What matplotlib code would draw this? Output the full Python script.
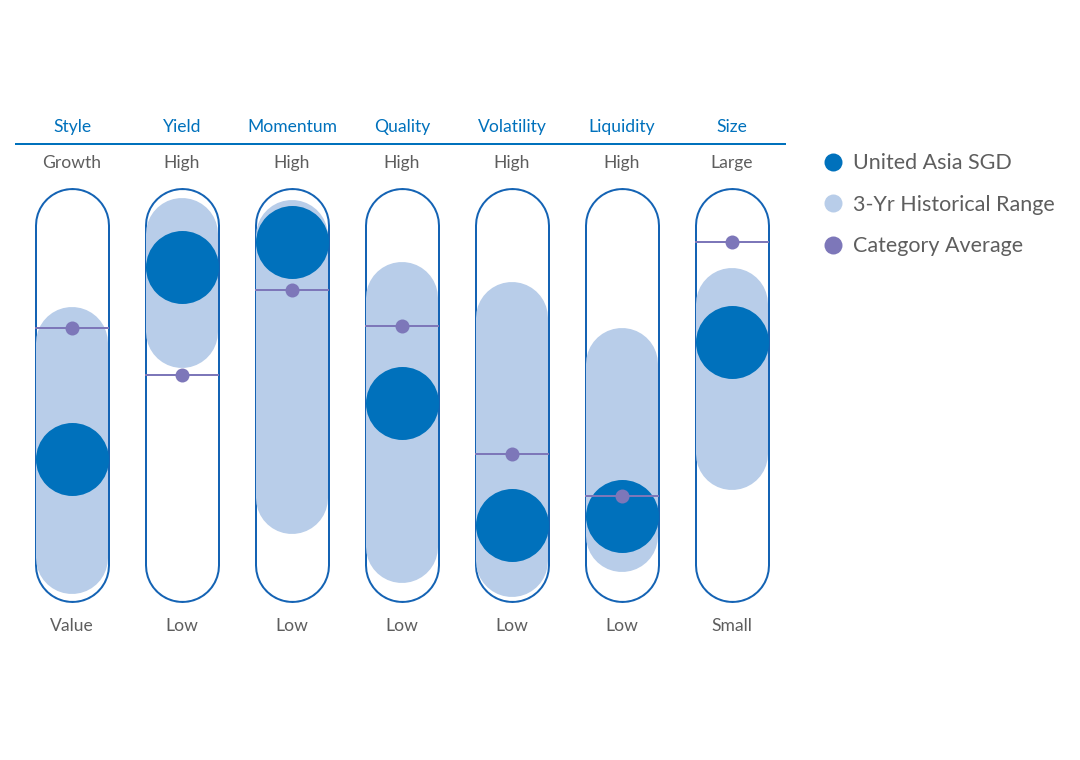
import matplotlib
matplotlib.use("Agg")
import matplotlib.pyplot as plt
from matplotlib.lines import Line2D

# factor names and end labels
factors = ["Style", "Yield", "Momentum", "Quality", "Volatility", "Liquidity", "Size"]
top_labels = ["Growth", "High", "High", "High", "High", "High", "Large"]
bottom_labels = ["Value", "Low", "Low", "Low", "Low", "Low", "Small"]

# values on a 0-100 scale (0 = bottom, 100 = top of pillar)
fund = [31.3, 87.5, 95.1, 47.6, 11.9, 14.3, 65.6]
range_low = [2.1, 68.5, 19.7, 5.3, 1.2, 8.5, 32.6]
range_high = [65.3, 97.4, 96.8, 78.5, 72.6, 59.1, 76.8]
cat_avg = [69.7, 55.9, 80.9, 70.3, 32.6, 20.3, 95.0]

legend_labels = ["United Asia SGD", "3-Yr Historical Range", "Category Average"]

DARK = "#0071bc"
LIGHT = "#b8cde9"
PURPLE = "#7d77b9"
OUTLINE = "#1463b4"
GREY = "#5e5e5e"

plt.rcParams['font.family'] = ['Lato', 'DejaVu Sans']

fig = plt.figure(figsize=(10.8, 7.6), dpi=100)
# 1 column = 110 px, 1 value unit = 3.4 px
ax = fig.add_axes([17 / 1080, 100 / 760, 770 / 1080, 560 / 760])
ax.set_xlim(-0.5, 6.5)
ax.set_ylim(-27.94, 136.76)
ax.axis("off")

px = 72 / 100  # points per pixel
for i in range(len(factors)):
    # pillar outline: thick blue round-capped line with white inside
    ax.plot([i, i], [0, 100], color=OUTLINE, lw=75 * px, solid_capstyle="round", zorder=1)
    ax.plot([i, i], [0, 100], color="white", lw=71 * px, solid_capstyle="round", zorder=2)
    # 3-yr range
    ax.plot([i, i], [range_low[i], range_high[i]], color=LIGHT, lw=72 * px,
            solid_capstyle="round", zorder=3)
    # fund position
    ax.scatter([i], [fund[i]], s=(73 * px) ** 2, color=DARK, zorder=4, linewidths=0)
    # category average
    ax.plot([i - 0.33, i + 0.33], [cat_avg[i], cat_avg[i]], color=PURPLE, lw=2 * px, zorder=5)
    ax.scatter([i], [cat_avg[i]], s=(14 * px) ** 2, color=PURPLE, zorder=6, linewidths=0)

    ax.text(i, 128.8, factors[i], ha="center", va="center", color=DARK, fontsize=12.6)
    ax.text(i, 118.3, top_labels[i], ha="center", va="center", color=GREY, fontsize=12.6)
    ax.text(i, -17.9, bottom_labels[i], ha="center", va="center", color=GREY, fontsize=12.6)

# header rule
ax.plot([-0.505, 6.48], [123.8, 123.8], color=DARK, lw=2 * px, clip_on=False)

handles = [
    Line2D([], [], marker="o", ls="", color=DARK, markersize=18 * px, markeredgewidth=0),
    Line2D([], [], marker="o", ls="", color=LIGHT, markersize=18 * px, markeredgewidth=0),
    Line2D([], [], marker="o", ls="", color=PURPLE, markersize=18 * px, markeredgewidth=0),
]
leg = ax.legend(handles, legend_labels,
                loc="upper left", bbox_to_anchor=(801 / 1080, 1 - 134 / 760),
                bbox_transform=fig.transFigure, frameon=False, fontsize=15.5,
                handletextpad=0.3, labelspacing=1.0, handlelength=1.2)
for t in leg.get_texts():
    t.set_color(GREY)

fig.savefig("out.png", dpi=100)
